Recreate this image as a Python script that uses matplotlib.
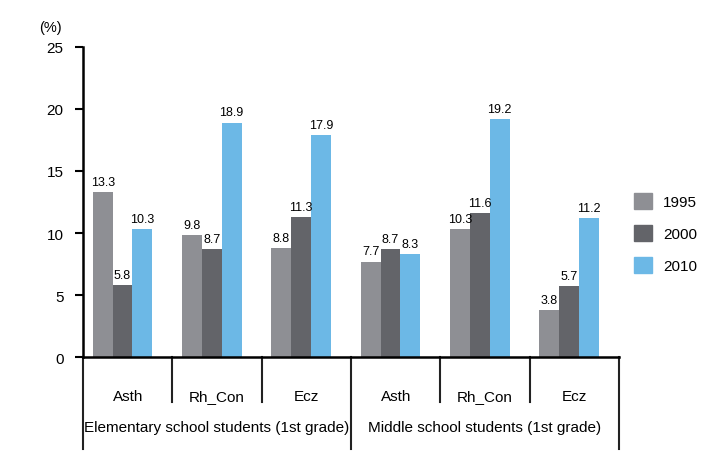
import numpy as np
import matplotlib
matplotlib.use('Agg')
import matplotlib.pyplot as plt
from matplotlib.patches import Patch

plt.rcParams['font.family'] = ['Liberation Sans', 'DejaVu Sans']

categories = ['Asth', 'Rh_Con', 'Ecz', 'Asth', 'Rh_Con', 'Ecz']
groups = ['Elementary school students (1st grade)', 'Middle school students (1st grade)']
years = ['1995', '2000', '2010']
v1995 = [13.3, 9.8, 8.8, 7.7, 10.3, 3.8]
v2000 = [5.8, 8.7, 11.3, 8.7, 11.6, 5.7]
v2010 = [10.3, 18.9, 17.9, 8.3, 19.2, 11.2]
colors = ['#8e8f94', '#636469', '#6cb8e6']

fig = plt.figure(figsize=(7.17, 4.6), dpi=100)
ax = fig.add_axes([0.1158, 0.2217, 0.8633 - 0.1158, 0.8957 - 0.2217])

x = np.arange(len(categories)) + 0.5
w = 0.222
offs = [-0.28, -0.058, 0.164]
series = [v1995, v2000, v2010]
for i in range(3):
    bars = ax.bar(x + offs[i], series[i], w, color=colors[i], label=years[i])
    for b, v in zip(bars, series[i]):
        ax.text(b.get_x() + b.get_width() / 2, v + 0.35, '%.1f' % v,
                ha='center', va='bottom', fontsize=9)

ax.set_xlim(0, 6)
ax.set_ylim(0, 25)
ax.set_yticks([0, 5, 10, 15, 20, 25])
ax.tick_params(axis='y', direction='out', length=6, width=1.5, labelsize=11, pad=8)
ax.tick_params(axis='x', length=0, labelbottom=False)
for s in ['top', 'right']:
    ax.spines[s].set_visible(False)
ax.spines['left'].set_linewidth(1.8)
ax.spines['bottom'].set_linewidth(1.8)
ax.spines['bottom'].set_bounds(0, 6)

# category separators below the axis
trans = ax.get_xaxis_transform()
px = 1.0 / (ax.get_position().height * fig.get_figheight() * fig.dpi)
for xs in range(7):
    ylow = -92 * px if xs in (0, 3, 6) else -45 * px
    ax.plot([xs, xs], [0, ylow], color='#222222', lw=1.5, transform=trans, clip_on=False)

for xi, c in zip(x, categories):
    ax.text(xi, -39 * px, c, transform=trans, ha='center', va='center', fontsize=11)
for gi, g in enumerate(groups):
    ax.text(1.5 + 3 * gi, -70 * px, g, transform=trans, ha='center', va='center', fontsize=11)

fig.text(50 / 717, 1 - 28 / 460, '(%)', ha='center', va='center', fontsize=10.5)

handles = [Patch(color=colors[i], label=years[i]) for i in range(3)]
fig.legend(handles=handles, loc='upper left', bbox_to_anchor=(620 / 717, 1 - 180 / 460),
           frameon=False, fontsize=11, handlelength=1.2, handleheight=1.3,
           labelspacing=1.0, handletextpad=0.7)

fig.savefig('out.png', dpi=100)
